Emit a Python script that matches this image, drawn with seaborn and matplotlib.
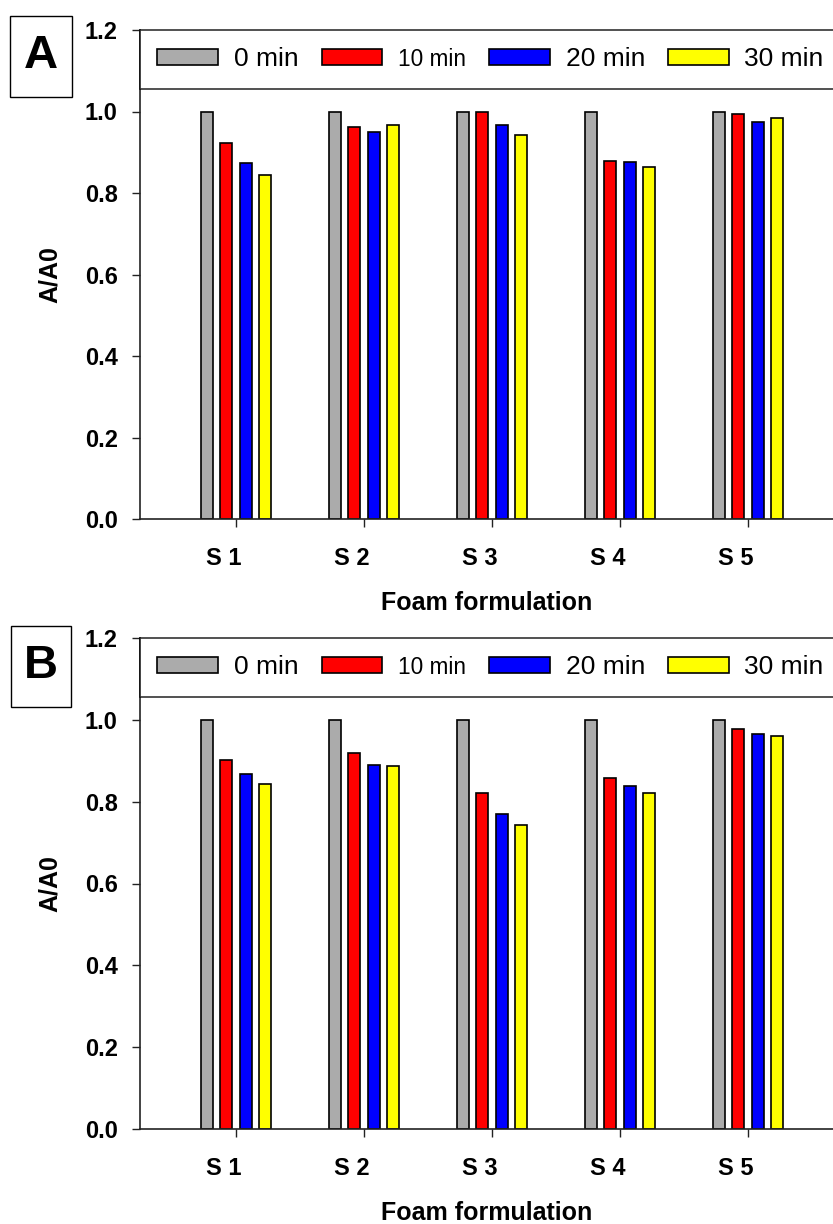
import numpy as np
import pandas as pd
import matplotlib
matplotlib.use("Agg")
import matplotlib.pyplot as plt
import matplotlib.transforms as mtrans
from matplotlib.patches import Rectangle
import seaborn as sns

# data
samples = ["S 1", "S 2", "S 3", "S 4", "S 5"]
times = ["0 min", "10 min", "20 min", "30 min"]
colors = ["#ABABAB", "#FF0000", "#0000FF", "#FFFF00"]

a_0min = [1.0, 1.0, 1.0, 1.0, 1.0]
a_10min = [0.922, 0.963, 0.999, 0.879, 0.993]
a_20min = [0.874, 0.950, 0.968, 0.876, 0.974]
a_30min = [0.845, 0.968, 0.942, 0.865, 0.983]

b_0min = [1.0, 1.0, 1.0, 1.0, 1.0]
b_10min = [0.901, 0.918, 0.820, 0.859, 0.978]
b_20min = [0.867, 0.889, 0.769, 0.839, 0.966]
b_30min = [0.844, 0.887, 0.742, 0.822, 0.961]


def to_long(series):
    rows = []
    for t, vals in zip(times, series):
        for s, v in zip(samples, vals):
            rows.append({"sample": s, "time": t, "ratio": v})
    return pd.DataFrame(rows)


dfA = to_long([a_0min, a_10min, a_20min, a_30min])
dfB = to_long([b_0min, b_10min, b_20min, b_30min])

sns.set_style("ticks")
plt.rcParams['font.family'] = ['Liberation Sans', 'DejaVu Sans']
plt.rcParams['text.color'] = 'black'
plt.rcParams['axes.labelcolor'] = 'black'

fig = plt.figure(figsize=(8.33, 12.24), dpi=100)
W, H = 833, 1224


def panel(df, top_px, bottom_px, letter, box, xlab_y):
    ax = fig.add_axes([140 / W, 1 - bottom_px / H, 1 - 140 / W, (bottom_px - top_px) / H])
    sns.barplot(data=df, x="sample", y="ratio", hue="time", hue_order=times,
                palette=colors, width=0.6, gap=0.37, edgecolor="black",
                linewidth=1.2, ax=ax, errorbar=None, saturation=1)
    ax.set_ylim(0, 1.2)
    ax.set_xlim(-0.75, 4.664)
    ax.set_yticks(np.arange(0, 1.21, 0.2))
    ax.set_yticklabels([f"{v:.1f}" for v in np.arange(0, 1.21, 0.2)])
    ax.tick_params(axis="both", direction="out", length=6, width=1, colors="#222222")
    ax.tick_params(axis="y", pad=10, labelsize=17)
    ax.tick_params(axis="x", pad=14, labelsize=17)
    for lab in ax.get_xticklabels() + ax.get_yticklabels():
        lab.set_fontweight("bold")
        lab.set_color("black")
    off = mtrans.ScaledTranslation(-12 / 100, 0, fig.dpi_scale_trans)
    for lab in ax.get_xticklabels():
        lab.set_transform(lab.get_transform() + off)
    for side in ["top", "right"]:
        ax.spines[side].set_visible(False)
    for side in ["left", "bottom"]:
        ax.spines[side].set_linewidth(1.2)
        ax.spines[side].set_color("#222222")

    ax.set_xlabel("Foam formulation", fontsize=18, fontweight="bold")
    ax.set_ylabel("A/A0", fontsize=18, fontweight="bold")
    ax.yaxis.set_label_coords(-0.113, 0.5)
    ax.xaxis.set_label_coords(0.5, xlab_y)

    h, l = ax.get_legend_handles_labels()
    if ax.legend_:
        ax.legend_.remove()
    leg = ax.legend(h, l, loc="upper left", bbox_to_anchor=(0, 1), borderaxespad=0,
                    ncol=4, fontsize=19, frameon=True, fancybox=False,
                    handlelength=2.3, handleheight=0.57, handletextpad=0.6,
                    columnspacing=0.87, borderpad=0.66)
    leg.get_frame().set_edgecolor("black")
    leg.get_frame().set_linewidth(1.2)
    for t in leg.get_texts():
        t.set_color("black")
    leg.get_texts()[1].set_fontsize(16.3)

    x0, y0, x1, y1 = box
    fig.patches.append(Rectangle((x0 / W, 1 - y1 / H), (x1 - x0) / W, (y1 - y0) / H,
                                 transform=fig.transFigure, fill=False,
                                 edgecolor="black", linewidth=1))
    fig.text((x0 + x1) / 2 / W, 1 - (y0 + y1) / 2 / H, letter, ha="center",
             va="center", fontsize=34, fontweight="bold")
    return ax


panel(dfA, 30, 519, "A", (10, 16, 72, 97), -0.148)
panel(dfB, 638, 1129, "B", (11, 626, 71, 707), -0.147)

plt.savefig("out.png", dpi=100)
